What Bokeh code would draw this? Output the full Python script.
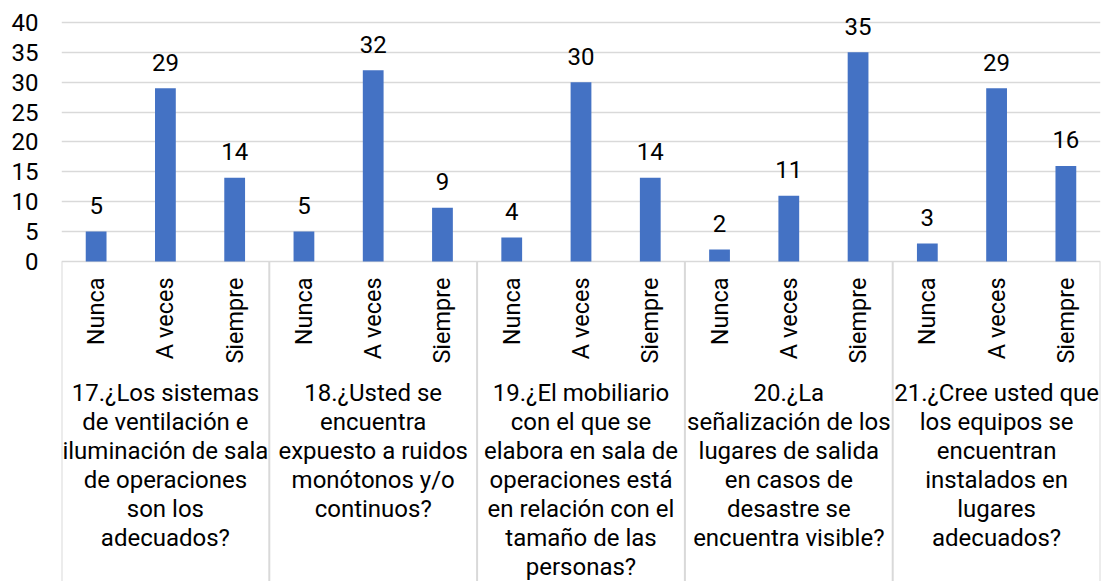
from bokeh.plotting import figure
from bokeh.models import FactorRange, Range1d, FixedTicker, ColumnDataSource
from bokeh.core.properties import value
from bokeh.embed import file_html
from bokeh.resources import INLINE

# ---- data ----
groups = [
    "17.¿Los sistemas\nde ventilación e\niluminación de sala\nde operaciones\nson los\nadecuados?",
    "18.¿Usted se\nencuentra\nexpuesto a ruidos\nmonótonos y/o\ncontinuos?",
    "19.¿El mobiliario\ncon el que se\nelabora en sala de\noperaciones está\nen relación con el\ntamaño de las\npersonas?",
    "20.¿La\nseñalización de los\nlugares de salida\nen casos de\ndesastre se\nencuentra visible?",
    "21.¿Cree usted que\nlos equipos se\nencuentran\ninstalados en\nlugares\nadecuados?",
]
subs = ["Nunca", "A veces", "Siempre"]
nunca = [5, 5, 4, 2, 3]
a_veces = [29, 32, 30, 11, 29]
siempre = [14, 9, 14, 35, 16]
y_ticks = [0, 5, 10, 15, 20, 25, 30, 35, 40]

FONT = value("Roboto")
BLUE = "#4472C4"
GRID = "#D9D9D9"
Y_MIN = -53.56
Y_MAX = 43.68

factors = []
tops = []
for g, n, a, s in zip(groups, nunca, a_veces, siempre):
    for sub, v in zip(subs, [n, a, s]):
        factors.append((g, sub))
        tops.append(v)

src = ColumnDataSource(dict(
    x=factors, top=tops, label=[str(t) for t in tops],
    sub=[f[1] for f in factors], zero=[0] * len(factors),
))

p = figure(
    x_range=FactorRange(*factors, range_padding=0, group_padding=0, factor_padding=0),
    y_range=Range1d(Y_MIN, Y_MAX),
    width=1102, height=581,
    output_backend="svg", toolbar_location=None,
    x_axis_location=None,
    min_border_left=61, min_border_right=2, min_border_top=0, min_border_bottom=0,
)
p.outline_line_color = None
p.background_fill_color = "white"
p.border_fill_color = "white"

p.xgrid.visible = False
p.ygrid.ticker = FixedTicker(ticks=y_ticks)
p.ygrid.grid_line_color = GRID
p.ygrid.grid_line_width = 1.5

ax = p.yaxis[0]
ax.ticker = FixedTicker(ticks=y_ticks)
ax.axis_line_color = None
ax.major_tick_line_color = None
ax.minor_tick_line_color = None
ax.major_label_text_font = "Roboto"
ax.major_label_text_font_size = "24px"
ax.major_label_text_color = "#000000"
ax.major_label_standoff = 17

# bars
p.vbar(x="x", top="top", bottom=0, width=0.3, source=src, fill_color=BLUE, line_color=None)

# data labels
p.text(x="x", y="top", text="label", source=src, text_font=FONT, text_font_size="24px",
       text_color="#000000", text_align="center", text_baseline="alphabetic", y_offset=-26)

# separators between groups (category axis box)
n_sub = len(subs)
bounds = [i * n_sub for i in range(len(groups) + 1)]
sep = ColumnDataSource(dict(x0=bounds, x1=bounds, y0=[0] * len(bounds), y1=[Y_MIN] * len(bounds)))
p.segment(x0="x0", y0="y0", x1="x1", y1="y1", source=sep, line_color=GRID, line_width=2)

# sub-category labels (rotated)
p.text(x="x", y="zero", text="sub", source=src, text_font=FONT, text_font_size="23.5px",
       text_color="#000000", angle=1.5708, text_align="right", text_baseline="middle",
       y_offset=16)

# group labels
gsrc = ColumnDataSource(dict(x=groups, y=[0] * len(groups), text=groups))
p.text(x="x", y="y", text="text", source=gsrc, text_font=FONT, text_font_size="24px",
       text_color="#000000", text_align="center", text_baseline="top", y_offset=118,
       text_line_height=1.03)

open("out.html", "w").write(file_html(p, INLINE))
